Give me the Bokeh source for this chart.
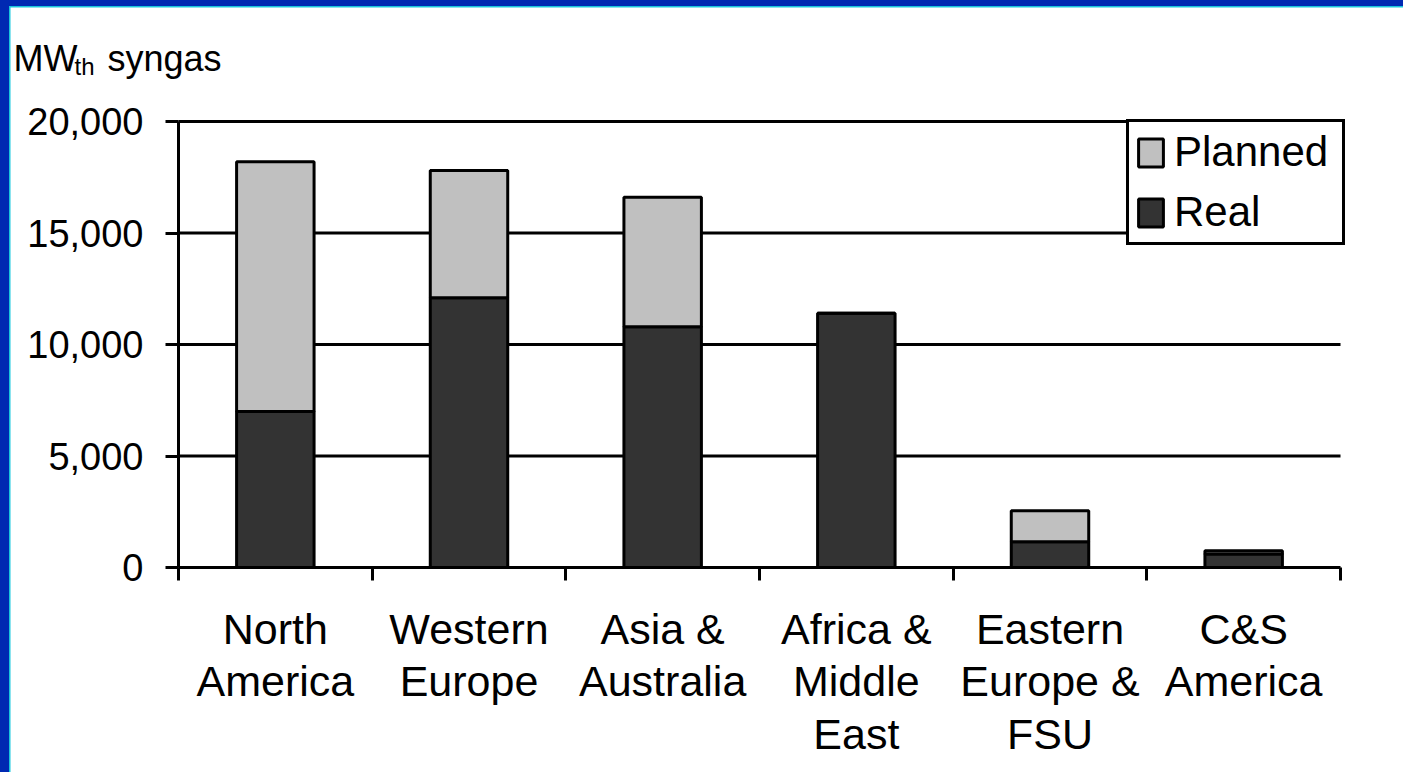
from bokeh.plotting import figure
from bokeh.models import (ColumnDataSource, Range1d, FixedTicker, NumeralTickFormatter,
                          Legend, LegendItem, Label)
from bokeh.layouts import column
from bokeh.embed import file_html
from bokeh.resources import INLINE

# ---- data ----
categories = ["North America", "Western Europe", "Asia & Australia",
              "Africa & Middle East", "Eastern Europe & FSU", "C&S America"]
category_labels = ["North\nAmerica", "Western\nEurope", "Asia &\nAustralia",
                   "Africa &\nMiddle\nEast", "Eastern\nEurope &\nFSU", "C&S\nAmerica"]
real = [7000, 12100, 10800, 11400, 1150, 600]
planned = [11200, 5700, 5800, 0, 1400, 150]
y_ticks = [0, 5000, 10000, 15000, 20000]

FONT = "Liberation Sans"
xs = [i + 1 for i in range(len(categories))]
bounds = [i + 0.5 for i in range(len(categories) + 1)]

# ---- layout (pixels inside the figure) ----
W, H = 1393, 765
FL, FR, FT, FB = 168, 1330, 114, 560   # plotting area of the chart
xscale = (FR - FL) / (bounds[-1] - bounds[0])
yscale = (FB - FT) / (y_ticks[-1] - y_ticks[0])
x_start = bounds[0] - FL / xscale
x_end = bounds[-1] + (W - FR) / xscale
y_start = y_ticks[0] - (H - FB) / yscale
y_end = y_ticks[-1] + FT / yscale

src = ColumnDataSource(dict(x=xs, cat=categories, real=real, planned=planned))
grid_src = ColumnDataSource(dict(y=y_ticks[1:],
                                 x0=[bounds[0]] * (len(y_ticks) - 1),
                                 x1=[bounds[-1]] * (len(y_ticks) - 1)))

p = figure(width=W, height=H, output_backend="svg", toolbar_location=None,
           x_range=Range1d(x_start, x_end), y_range=Range1d(y_start, y_end),
           min_border=0, min_border_left=0, min_border_right=0, min_border_top=0,
           min_border_bottom=0, margin=(1, 0, 0, 1))
p.background_fill_color = "white"
p.border_fill_color = "white"
p.outline_line_color = None
p.xgrid.visible = False
p.ygrid.visible = False

# gridlines
p.segment(x0="x0", y0="y", x1="x1", y1="y", source=grid_src,
          line_color="black", line_width=3, level="underlay")

rs = p.vbar_stack(["real", "planned"], x="x", width=0.4, source=src,
                  fill_color=["#333333", "#c0c0c0"], line_color="black", line_width=3)

# y axis
ya = p.yaxis[0]
ya.fixed_location = bounds[0]
ya.bounds = (y_ticks[0], y_ticks[-1])
ya.ticker = FixedTicker(ticks=y_ticks)
ya.formatter = NumeralTickFormatter(format="0,0")
ya.axis_line_width = 3
ya.axis_line_color = "black"
ya.major_tick_out = 13
ya.major_tick_in = 0
ya.major_tick_line_width = 3
ya.minor_tick_line_color = None
ya.major_label_text_font = FONT
ya.major_label_text_font_size = "38px"
ya.major_label_text_color = "black"
ya.major_label_standoff = 22

# x axis
xa = p.xaxis[0]
xa.fixed_location = y_ticks[0]
xa.bounds = (bounds[0], bounds[-1])
xa.ticker = FixedTicker(ticks=xs, minor_ticks=bounds)
xa.major_label_overrides = {x: lab for x, lab in zip(xs, category_labels)}
xa.axis_line_width = 3
xa.axis_line_color = "black"
xa.major_tick_line_color = None
xa.major_tick_out = 0
xa.major_tick_in = 0
xa.minor_tick_out = 13
xa.minor_tick_in = 0
xa.minor_tick_line_width = 3
xa.minor_tick_line_color = "black"
xa.major_label_text_font = FONT
xa.major_label_text_font_size = "43px"
xa.major_label_text_line_height = 1.1
xa.major_label_text_color = "black"
xa.major_label_standoff = 24

legend = Legend(items=[LegendItem(label="Planned", renderers=[rs[1]]),
                       LegendItem(label="Real", renderers=[rs[0]])],
                location=(1116, 527), margin=0, padding=6, spacing=12,
                glyph_width=31, glyph_height=35, label_standoff=8,
                label_width=162,
                label_text_font=FONT, label_text_font_size="42px",
                label_text_color="black",
                border_line_color="black", border_line_width=3, border_line_alpha=1,
                background_fill_color="white", background_fill_alpha=1)
p.add_layout(legend, "center")

# axis title "MW_th syngas"
p.add_layout(Label(x=bounds[0], y=y_ticks[-1], x_offset=-165, y_offset=63, text="MW",
                   text_font=FONT, text_font_size="36px", text_color="black",
                   text_baseline="alphabetic"))
p.add_layout(Label(x=bounds[0], y=y_ticks[-1], x_offset=-104, y_offset=55, text="th",
                   text_font=FONT, text_font_size="24px", text_color="black",
                   text_baseline="alphabetic"))
p.add_layout(Label(x=bounds[0], y=y_ticks[-1], x_offset=-71, y_offset=63, text="syngas",
                   text_font=FONT, text_font_size="36px", text_color="black",
                   text_baseline="alphabetic"))

inner = column(p, width=1394, height=766, background="#19c6dc", margin=(6, 0, 0, 9))
outer = column(inner, width=1403, height=772, background="#0029b2", margin=0)

open("out.html", "w").write(file_html(outer, INLINE))
